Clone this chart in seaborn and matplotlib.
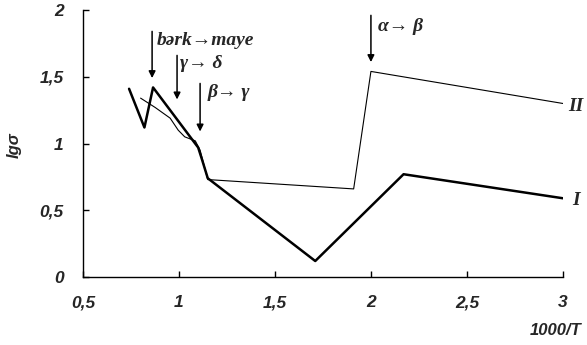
import matplotlib
matplotlib.use("Agg")
import matplotlib.pyplot as plt
import seaborn as sns
import pandas as pd
from matplotlib.ticker import FuncFormatter

# Curve I (thick)
x_I = [0.74, 0.82, 0.865, 1.10, 1.12, 1.15, 1.71, 2.17, 3.0]
y_I = [1.41, 1.12, 1.42, 0.97, 0.88, 0.74, 0.12, 0.77, 0.59]

# Curve II (thin)
x_II = [0.80, 0.876, 0.954, 0.996, 1.03, 1.085, 1.11, 1.15, 1.91, 2.0, 3.0]
y_II = [1.34, 1.27, 1.19, 1.10, 1.05, 1.02, 0.95, 0.73, 0.66, 1.54, 1.30]

x_ticks = [0.5, 1, 1.5, 2, 2.5, 3]
y_ticks = [0, 0.5, 1, 1.5, 2]

# Phase transition markers: (x of arrow, label)
transitions = [
    (0.86, "bərk→maye"),
    (0.99, "γ→ δ"),
    (1.11, "β→ γ"),
    (2.0, "α→ β"),
]

sns.set_theme(style="ticks")
plt.rcParams["font.family"] = ["Liberation Sans", "DejaVu Sans"]

fig = plt.figure(figsize=(5.87, 3.45), dpi=100)
ax = fig.add_axes([0.1414, 0.197, 0.8175, 0.774])

df_I = pd.DataFrame({"x": x_I, "y": y_I})
df_II = pd.DataFrame({"x": x_II, "y": y_II})
sns.lineplot(data=df_I, x="x", y="y", ax=ax, color="black", linewidth=1.8,
             sort=False, estimator=None)
sns.lineplot(data=df_II, x="x", y="y", ax=ax, color="black", linewidth=0.8,
             sort=False, estimator=None)

ax.set_xlim(0.5, 3.0)
ax.set_ylim(0, 2.0)
ax.set_xticks(x_ticks)
ax.set_yticks(y_ticks)

fmt = FuncFormatter(lambda v, p: (f"{v:g}").replace(".", ","))
ax.xaxis.set_major_formatter(fmt)
ax.yaxis.set_major_formatter(fmt)

for lab in ax.get_xticklabels() + ax.get_yticklabels():
    lab.set_fontweight("bold")
    lab.set_fontstyle("italic")
    lab.set_fontsize(12.5)

ax.tick_params(direction="in", length=4, width=1, color="black")
ax.tick_params(axis="x", pad=13)
ax.tick_params(axis="y", pad=14)

for side in ["top", "right"]:
    ax.spines[side].set_visible(False)
for side in ["left", "bottom"]:
    ax.spines[side].set_color("black")
    ax.spines[side].set_linewidth(1.0)

ax.set_xlabel("")
ax.set_ylabel("")
fig.text(0.99, 0.02, "1000/T", ha="right", va="bottom", fontsize=12,
         fontweight="bold", fontstyle="italic")
fig.text(0.025, 0.58, "lgσ", ha="center", va="center", rotation=90,
         fontsize=12, fontweight="bold", fontstyle="italic")

serif = ["Liberation Serif", "DejaVu Serif"]

# Arrows with transition labels
arrow_specs = [
    (0.86, 1.84, 1.49, 0.885, 1.77),
    (0.99, 1.66, 1.33, 1.005, 1.60),
    (1.11, 1.45, 1.09, 1.15, 1.38),
    (2.0, 1.96, 1.61, 2.035, 1.88),
]
for (xa, y0, y1, xt, yt), (_, text) in zip(arrow_specs, transitions):
    ax.annotate("", xy=(xa, y1), xytext=(xa, y0),
                arrowprops=dict(arrowstyle="-|>", color="black", lw=1.1,
                                mutation_scale=10, shrinkA=0, shrinkB=0))
    ax.text(xt, yt, text, ha="left", va="center", fontsize=14,
            fontweight="bold", fontstyle="italic", family=serif)

ax.text(3.03, 1.28, "II", ha="left", va="center", fontsize=14,
        fontweight="bold", fontstyle="italic", family=serif, clip_on=False)
ax.text(3.05, 0.57, "I", ha="left", va="center", fontsize=14,
        fontweight="bold", fontstyle="italic", family=serif, clip_on=False)

fig.savefig("out.png", dpi=100)
